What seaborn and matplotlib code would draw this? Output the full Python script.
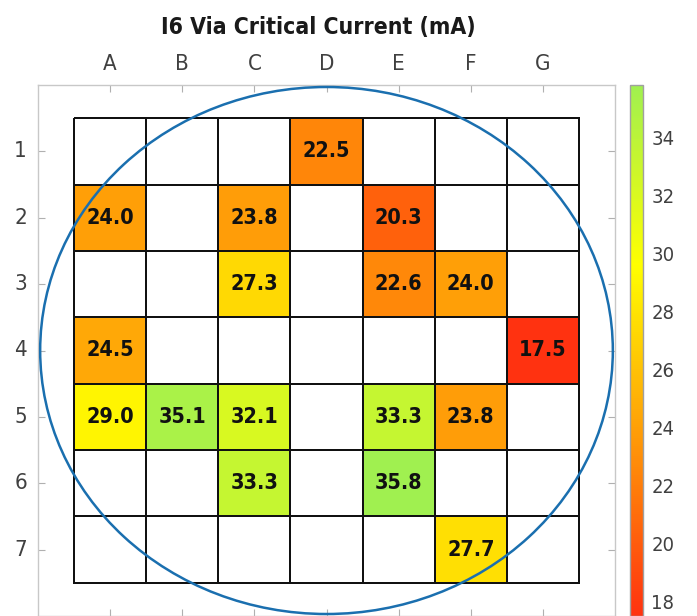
import numpy as np
import pandas as pd
import matplotlib
matplotlib.use("Agg")
import matplotlib.pyplot as plt
from matplotlib.colors import LinearSegmentedColormap, ListedColormap
from matplotlib.patches import Circle
import seaborn as sns

columns = ["A", "B", "C", "D", "E", "F", "G"]
rows = ["1", "2", "3", "4", "5", "6", "7"]
nan = np.nan
row1 = [nan, nan, nan, 22.5, nan, nan, nan]
row2 = [24.0, nan, 23.8, nan, 20.3, nan, nan]
row3 = [nan, nan, 27.3, nan, 22.6, 24.0, nan]
row4 = [24.5, nan, nan, nan, nan, nan, 17.5]
row5 = [29.0, 35.1, 32.1, nan, 33.3, 23.8, nan]
row6 = [nan, nan, 33.3, nan, 35.8, nan, nan]
row7 = [nan, nan, nan, nan, nan, 27.7, nan]
cbar_ticks = [18, 20, 22, 24, 26, 28, 30, 32, 34]
title = "I6 Via Critical Current (mA)"

df = pd.DataFrame([row1, row2, row3, row4, row5, row6, row7], index=rows, columns=columns)

sns.set_style("white")
plt.rcParams["font.family"] = ["DejaVu Sans"]
plt.rcParams["font.stretch"] = "condensed"

vmin, vmax = 17.5, 35.8
ypos = (29.6 - vmin) / (vmax - vmin)
cmap = LinearSegmentedColormap.from_list(
    "rog", [(0.0, "#ff3210"), (ypos, "#ffff00"), (1.0, "#a0f050")])

fig = plt.figure(figsize=(6.97, 6.16), dpi=100)
ax = fig.add_axes([38 / 697, 0.0, 577 / 697, 531 / 616])
cax = fig.add_axes([630 / 697, 0.0, 13 / 697, 531 / 616])

# white grid of all cells
sns.heatmap(np.zeros_like(df.values), ax=ax, cmap=ListedColormap(["white"]),
            cbar=False, linewidths=1.2, linecolor="#111111")
# data cells
sns.heatmap(df, ax=ax, cmap=cmap, vmin=vmin, vmax=vmax, cbar_ax=cax,
            linewidths=1.2, linecolor="#111111",
            annot=True, fmt=".1f",
            annot_kws={"fontsize": 15.5, "fontweight": "bold", "color": "#111111",
                       "fontstretch": "condensed"})

ax.add_patch(Circle((3.5, 3.5), 3.97, fill=False, edgecolor="#1a6faf",
                    linewidth=1.8, zorder=5, clip_on=False))

ax.set_xlim(-0.5, 7.5)
ax.set_ylim(7.5, -0.5)
ax.set_xticks(np.arange(7) + 0.5)
ax.set_xticklabels(columns)
ax.set_yticks(np.arange(7) + 0.5)
ax.set_yticklabels(rows, rotation=0)
ax.set_xlabel("")
ax.set_ylabel("")
ax.xaxis.tick_top()
ax.tick_params(axis="both", which="both", direction="in", length=5, width=0.8,
               color="#b0b0b0", labelcolor="#404040", labelsize=16,
               top=True, bottom=True, left=True, right=True,
               labeltop=True, labelbottom=False, labelleft=True, labelright=False,
               pad=8)
for lab in ax.get_xticklabels() + ax.get_yticklabels():
    lab.set_fontstretch("condensed")
for sp in ax.spines.values():
    sp.set_visible(True)
    sp.set_color("#c8c8c8")
    sp.set_linewidth(1.0)

ax.set_title(title, fontsize=16.5, fontweight="bold", pad=37, color="#1a1a1a",
             fontstretch="condensed", x=0.486)

cb = ax.collections[1].colorbar
cb.set_ticks(cbar_ticks)
cax.tick_params(direction="in", length=3, color="#b0b0b0", labelcolor="#404040",
                labelsize=14.5, pad=6)
for lab in cax.get_yticklabels():
    lab.set_fontstretch("condensed")
cb.outline.set_visible(True)
cb.outline.set_edgecolor("#a0a0a0")
cb.outline.set_linewidth(1.0)

fig.savefig("out.png", dpi=100)
